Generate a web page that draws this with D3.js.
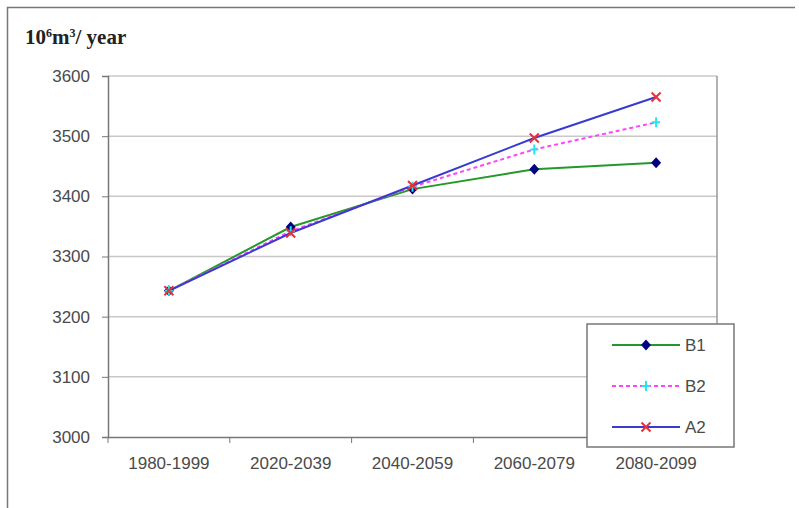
<!DOCTYPE html>
<html>
<head>
    <title>Water volume by period</title>
    <script src="https://d3js.org/d3.v7.min.js"></script>
    <style>
        body { margin: 0; background: #fff; }
        .axis text { font-family: "Liberation Sans", Arial, sans-serif; font-size: 17px; fill: #4a4a4a; }
        .legend text { font-family: "Liberation Sans", Arial, sans-serif; font-size: 17px; fill: #4a4a4a; }
    </style>
</head>
<body>
    <svg width="799" height="508"></svg>
    <script>
        var periods = ["1980-1999", "2020-2039", "2040-2059", "2060-2079", "2080-2099"];
        var b1 = [3243, 3349, 3412, 3445, 3456];
        var b2 = [3243, 3342, 3416, 3478, 3523];
        var a2 = [3243, 3339, 3418, 3497, 3565];
        var yTicks = [3000, 3100, 3200, 3300, 3400, 3500, 3600];
        var seriesNames = ["B1", "B2", "A2"];

        var series = [
            {name: seriesNames[0], values: b1, color: "#22992a", dash: null, marker: "diamond", mcolor: "#000080"},
            {name: seriesNames[1], values: b2, color: "#ff44ff", dash: "4,3", marker: "plus", mcolor: "#22e6f0"},
            {name: seriesNames[2], values: a2, color: "#3a3ad0", dash: null, marker: "cross", mcolor: "#e8303a"}
        ];

        var svg = d3.select("svg"),
            margin = {top: 76, right: 82, bottom: 71, left: 108},
            width = +svg.attr("width") - margin.left - margin.right,
            height = +svg.attr("height") - margin.top - margin.bottom;

        // outer frame
        svg.append("path")
            .attr("d", "M7.5,508 V7.5 H795")
            .attr("fill", "none").attr("stroke", "#777").attr("stroke-width", 1.5);

        svg.append("text")
            .attr("x", 25).attr("y", 44)
            .style("font-family", "'Liberation Serif', 'Times New Roman', serif")
            .style("font-weight", "bold").style("font-size", "21px").style("fill", "#222")
            .html("10<tspan dy='-7' font-size='12'>6</tspan><tspan dy='7'>m</tspan><tspan dy='-7' font-size='12'>3</tspan><tspan dy='7'>/ year</tspan>");

        var g = svg.append("g").attr("transform", "translate(" + margin.left + "," + margin.top + ")");

        var x0 = d3.scaleBand().domain(periods).range([0, width]);
        var y = d3.scaleLinear().domain([3000, 3600]).range([height, 0]);
        var xc = function(i) { return x0(periods[i]) + x0.bandwidth() / 2; };

        // grid
        g.append("g").selectAll("line")
            .data(yTicks.slice(1))
            .enter().append("line")
            .attr("x1", 0).attr("x2", width)
            .attr("y1", d => y(d)).attr("y2", d => y(d))
            .attr("stroke", "#c8c8c8").attr("stroke-width", 1.5);

        // right border
        g.append("line")
            .attr("x1", width).attr("x2", width).attr("y1", 0).attr("y2", height)
            .attr("stroke", "#999").attr("stroke-width", 1.5);

        var yAxis = g.append("g").attr("class", "axis")
            .call(d3.axisLeft(y).tickValues(yTicks).tickSize(6).tickPadding(12).tickFormat(d3.format("d")));
        yAxis.select(".domain").attr("stroke", "#777").attr("stroke-width", 1.5);
        yAxis.selectAll(".tick line").attr("stroke", "#777");

        var xAxis = g.append("g").attr("class", "axis")
            .attr("transform", "translate(0," + height + ")")
            .call(d3.axisBottom(x0).tickSize(0).tickPadding(20));
        xAxis.select(".domain").attr("stroke", "#777").attr("stroke-width", 1.5);
        xAxis.selectAll(".boundary")
            .data(d3.range(periods.length + 1))
            .enter().append("line")
            .attr("x1", i => i * x0.step()).attr("x2", i => i * x0.step())
            .attr("y1", 0).attr("y2", 6)
            .attr("stroke", "#777");

        function drawMarker(sel, type, color) {
            if (type === "diamond") {
                sel.append("path").attr("d", "M0,-5.5 L5,0 L0,5.5 L-5,0 Z").attr("fill", color);
            } else if (type === "plus") {
                sel.append("path").attr("d", "M-4,0 H4 M0,-5 V5").attr("stroke", color).attr("stroke-width", 2);
            } else {
                sel.append("path").attr("d", "M-4.5,-4.5 L4.5,4.5 M-4.5,4.5 L4.5,-4.5").attr("stroke", color).attr("stroke-width", 2);
            }
        }

        var line = d3.line().x((d, i) => xc(i)).y(d => y(d));

        series.forEach(function(s) {
            g.append("path")
                .attr("d", line(s.values))
                .attr("fill", "none")
                .attr("stroke", s.color)
                .attr("stroke-width", 2)
                .attr("stroke-dasharray", s.dash);
        });
        series.forEach(function(s) {
            s.values.forEach(function(v, i) {
                var m = g.append("g").attr("transform", "translate(" + xc(i) + "," + y(v) + ")");
                drawMarker(m, s.marker, s.mcolor);
            });
        });

        // legend
        var legend = svg.append("g").attr("class", "legend").attr("transform", "translate(587,324)");
        legend.append("rect")
            .attr("width", 147).attr("height", 123)
            .attr("fill", "#fff").attr("stroke", "#777").attr("stroke-width", 1.5);
        var items = legend.selectAll(".item")
            .data(series)
            .enter().append("g")
            .attr("transform", (d, i) => "translate(0," + (21 + i * 41) + ")");
        items.append("line")
            .attr("x1", 25).attr("x2", 93)
            .attr("stroke", d => d.color).attr("stroke-width", 2)
            .attr("stroke-dasharray", d => d.dash);
        items.each(function(d) {
            var m = d3.select(this).append("g").attr("transform", "translate(59,0)");
            drawMarker(m, d.marker, d.mcolor);
        });
        items.append("text")
            .attr("x", 98).attr("dy", "0.35em")
            .text(d => d.name);
    </script>
</body>
</html>
